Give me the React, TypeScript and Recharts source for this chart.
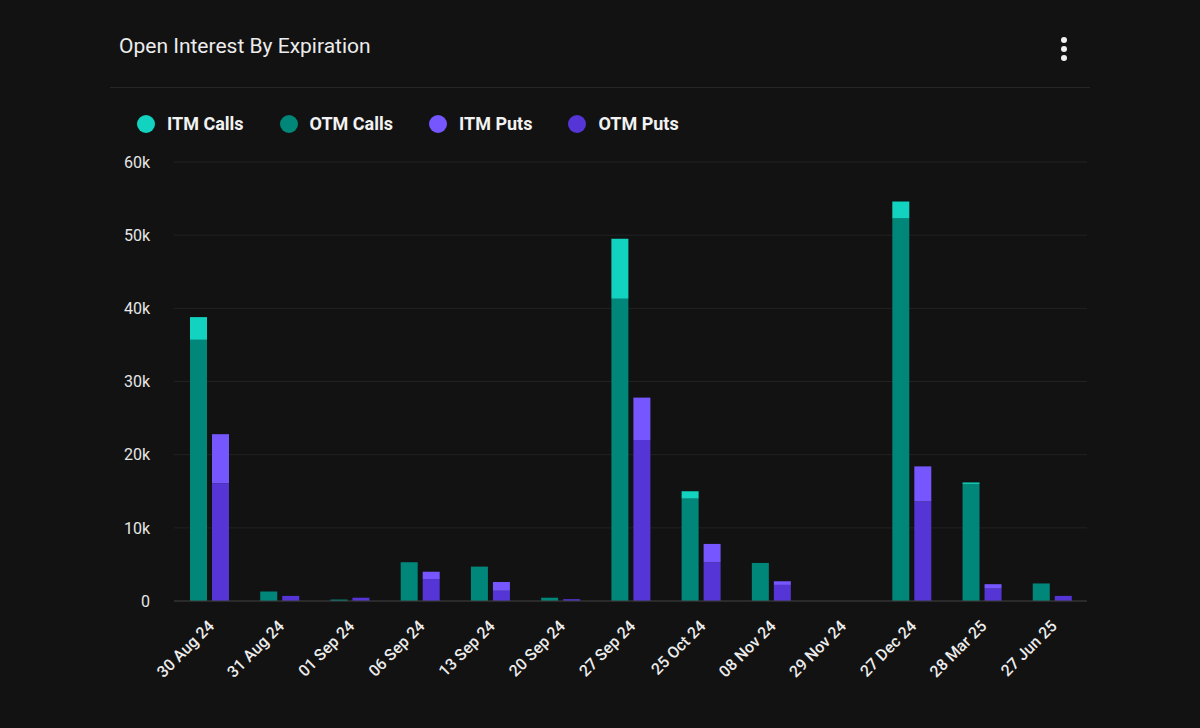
import { BarChart, Bar, XAxis, YAxis, CartesianGrid } from 'recharts';

const expiries = [
  '30 Aug 24', '31 Aug 24', '01 Sep 24', '06 Sep 24', '13 Sep 24', '20 Sep 24', '27 Sep 24',
  '25 Oct 24', '08 Nov 24', '29 Nov 24', '27 Dec 24', '28 Mar 25', '27 Jun 25',
];
const itmCalls = [3100, 0, 0, 0, 0, 0, 8200, 1000, 0, 0, 2300, 200, 0];
const otmCalls = [35700, 1300, 200, 5300, 4700, 450, 41300, 14000, 5200, 0, 52300, 16000, 2400];
const itmPuts = [6700, 0, 0, 1000, 1200, 0, 5800, 2500, 500, 0, 4800, 600, 0];
const otmPuts = [16100, 700, 450, 3000, 1400, 250, 22000, 5300, 2200, 0, 13600, 1700, 700];
const yTicks = [0, 10000, 20000, 30000, 40000, 50000, 60000];

const COLORS = {
  itmCalls: '#12d3bf',
  otmCalls: '#01867a',
  itmPuts: '#7556ff',
  otmPuts: '#5635d6',
};

const legendItems = [
  { label: 'ITM Calls', color: COLORS.itmCalls },
  { label: 'OTM Calls', color: COLORS.otmCalls },
  { label: 'ITM Puts', color: COLORS.itmPuts },
  { label: 'OTM Puts', color: COLORS.otmPuts },
];

const data = expiries.map((name, i) => ({
  name,
  itmCalls: itmCalls[i],
  otmCalls: otmCalls[i],
  itmPuts: itmPuts[i],
  otmPuts: otmPuts[i],
}));

const fmtK = (v: number) => (v === 0 ? '0' : `${v / 1000}k`);

const XTick = ({ x, y, payload }: any) => (
  <g transform={`translate(${x + 1},${y + 13})`}>
    <text
      textAnchor="end"
      transform="rotate(-45)"
      fill="#ececec"
      fontSize={16}
      fontWeight={500}
      dy={7}
      fontFamily="Roboto, sans-serif"
    >
      {payload.value}
    </text>
  </g>
);

export default function App() {
  return (
    <div
      style={{
        position: 'fixed',
        left: 0,
        top: 0,
        width: 1200,
        height: 728,
        background: '#121212',
        fontFamily: 'Roboto, sans-serif',
      }}
    >
      <div style={{ position: 'absolute', left: 119, top: 34, color: '#ececec', fontSize: 21 }}>
        Open Interest By Expiration
      </div>
      <div style={{ position: 'absolute', left: 1061, top: 37, width: 6, display: 'flex', flexDirection: 'column', gap: 3 }}>
        {[0, 1, 2].map((i) => (
          <span key={i} style={{ width: 6, height: 6, borderRadius: '50%', background: '#f0f0f0', display: 'block' }} />
        ))}
      </div>
      <div style={{ position: 'absolute', left: 110, top: 87, width: 980, height: 1, background: '#262626' }} />
      <div style={{ position: 'absolute', left: 137, top: 114, display: 'flex' }}>
        {legendItems.map((it) => (
          <div key={it.label} style={{ display: 'flex', alignItems: 'center', marginRight: 36 }}>
            <span
              style={{
                width: 18,
                height: 18,
                borderRadius: '50%',
                background: it.color,
                display: 'inline-block',
                marginRight: 12,
              }}
            />
            <span style={{ color: '#f2f2f2', fontSize: 18, fontWeight: 700, lineHeight: '20px' }}>{it.label}</span>
          </div>
        ))}
      </div>
      <div style={{ position: 'absolute', left: 0, top: 100 }}>
        <BarChart
          width={1200}
          height={600}
          data={data}
          margin={{ top: 62, right: 113, left: 100, bottom: 0 }}
          barSize={17}
          barGap={5}
        >
          <CartesianGrid vertical={false} stroke="#222222" />
          <XAxis
            dataKey="name"
            interval={0}
            height={99}
            tick={<XTick />}
            tickLine={false}
            axisLine={{ stroke: '#3a3a3a' }}
          />
          <YAxis
            width={74}
            domain={[0, 60000]}
            ticks={yTicks}
            tickFormatter={fmtK}
            tick={{ fill: '#e6e6e6', fontSize: 16 }}
            tickMargin={18}
            axisLine={false}
            tickLine={false}
          />
          <Bar dataKey="otmCalls" stackId="calls" fill={COLORS.otmCalls} isAnimationActive={false} />
          <Bar dataKey="itmCalls" stackId="calls" fill={COLORS.itmCalls} isAnimationActive={false} />
          <Bar dataKey="otmPuts" stackId="puts" fill={COLORS.otmPuts} isAnimationActive={false} />
          <Bar dataKey="itmPuts" stackId="puts" fill={COLORS.itmPuts} isAnimationActive={false} />
        </BarChart>
      </div>
    </div>
  );
}
